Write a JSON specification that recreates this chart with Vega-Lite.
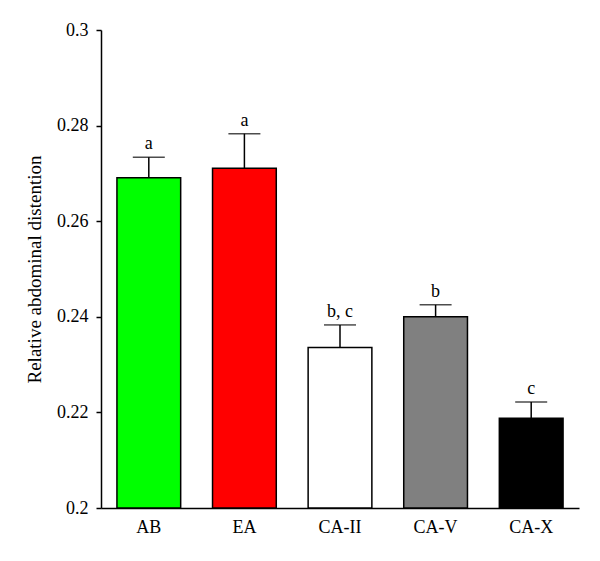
{
  "$schema": "https://vega.github.io/schema/vega-lite/v6.json",
  "autosize": "none",
  "width": 478,
  "height": 478,
  "padding": {"left": 101, "top": 30, "right": 21, "bottom": 53},
  "background": "white",
  "config": {
    "view": {"stroke": null},
    "font": "Liberation Serif",
    "axis": {"grid": false, "domainColor": "black", "domainWidth": 1.5, "tickColor": "black", "tickWidth": 1.5, "labelColor": "black", "titleColor": "black", "labelFont": "Liberation Serif", "titleFont": "Liberation Serif", "labelFontSize": 18, "titleFontSize": 19, "titleFontWeight": "normal"}
  },
  "data": {
    "values": [
      {"group": "AB", "mean": 0.2691, "err": 0.2734, "sig": "a", "color": "#00ff00"},
      {"group": "EA", "mean": 0.2711, "err": 0.2783, "sig": "a", "color": "#ff0000"},
      {"group": "CA-II", "mean": 0.2336, "err": 0.2383, "sig": "b, c", "color": "#ffffff"},
      {"group": "CA-V", "mean": 0.2400, "err": 0.2425, "sig": "b", "color": "#808080"},
      {"group": "CA-X", "mean": 0.2188, "err": 0.2222, "sig": "c", "color": "#000000"}
    ]
  },
  "encoding": {
    "x": {
      "field": "group", "type": "nominal", "sort": null,
      "scale": {"paddingInner": 0.3333, "paddingOuter": 0.1667},
      "axis": {"title": null, "labelAngle": 0, "ticks": false, "labelPadding": 10, "domainWidth": 1.5}
    }
  },
  "layer": [
    {
      "mark": {"type": "rule", "color": "black", "strokeWidth": 1.5},
      "encoding": {
        "y": {"field": "mean", "type": "quantitative"},
        "y2": {"field": "err"}
      }
    },
    {
      "mark": {"type": "tick", "color": "black", "thickness": 1.5, "size": 32, "orient": "horizontal"},
      "encoding": {
        "y": {"field": "err", "type": "quantitative"}
      }
    },
    {
      "mark": {"type": "bar", "stroke": "black", "strokeWidth": 1.5},
      "encoding": {
        "y": {
          "field": "mean", "type": "quantitative",
          "scale": {"domain": [0.2, 0.3], "zero": false, "nice": false},
          "axis": {"title": "Relative abdominal distention", "values": [0.2, 0.22, 0.24, 0.26, 0.28, 0.3], "format": "~g", "tickSize": 5, "labelPadding": 8, "titlePadding": 12}
        },
        "y2": {"datum": 0.2},
        "fill": {"field": "color", "type": "nominal", "scale": null}
      }
    },
    {
      "mark": {"type": "text", "baseline": "bottom", "dy": -4, "fontSize": 18, "font": "Liberation Serif", "color": "black"},
      "encoding": {
        "y": {"field": "err", "type": "quantitative"},
        "text": {"field": "sig"}
      }
    }
  ]
}
